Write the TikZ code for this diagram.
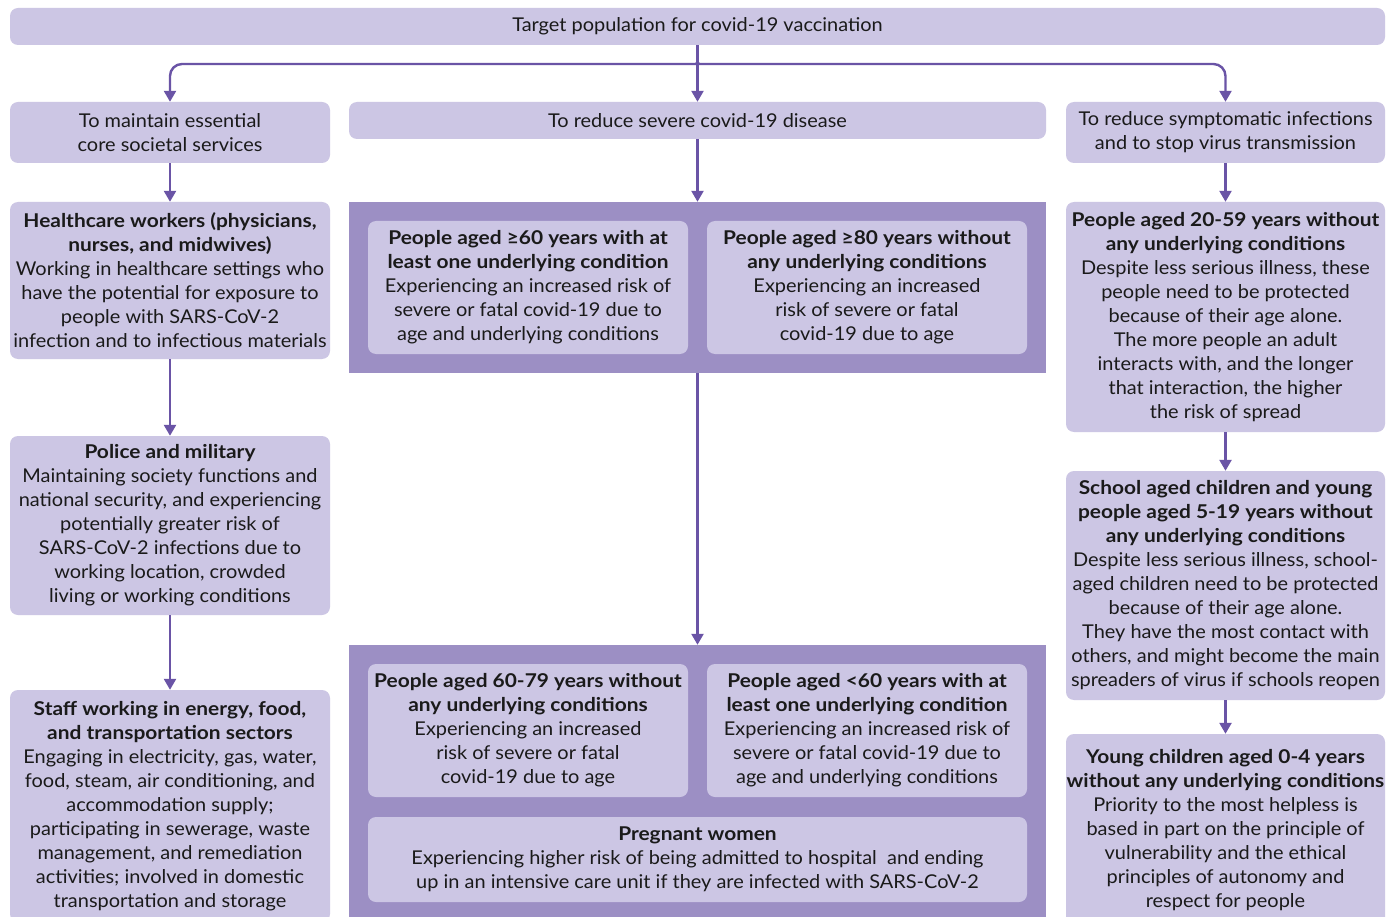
\documentclass[tikz,border=0pt]{standalone}
\usepackage{fontspec}
\setmainfont{Lato}[FakeStretch=1.05]
\newfontfamily\bfam{Lato}[FakeStretch=1.10]
\usetikzlibrary{arrows.meta,calc}
\definecolor{lightp}{HTML}{CCC6E4}
\definecolor{darkp}{HTML}{9C8FC4}
\definecolor{arrp}{HTML}{6A54A6}
\definecolor{txt}{HTML}{1A1A1A}
\newcommand\hd[1]{{\bfam\bfseries #1}}
\tikzset{
  lbox/.style={fill=lightp, rounded corners=8pt, align=center, inner sep=0pt, text=txt,
    font=\fontsize{19}{24}\selectfont},
  panel/.style={fill=darkp, inner sep=0pt},
  conn/.style={draw=arrp, line width=2.4pt, -{Triangle[width=12pt,length=11pt]}},
}
\begin{document}
\begin{tikzpicture}[x=1pt,y=-1pt]
\useasboundingbox (0,0) rectangle (1395,917);
\clip (0,0) rectangle (1395,917);
\fill[white] (0,0) rectangle (1395,917);

\node[lbox, minimum width=1375, minimum height=37] (top) at (697.5,26.5) {Target population for covid-19 vaccination};

\node[lbox, minimum width=320, minimum height=61] (c1) at (170,132.5) {To maintain essential\\core societal services};
\node[lbox, minimum width=697, minimum height=37] (c2) at (697.5,120.5) {To reduce severe covid-19 disease};
\node[lbox, minimum width=319, minimum height=61] (c3) at (1225.5,132.5) {To reduce symptomatic infections\\and to stop virus transmission};

% left column
\node[lbox, minimum width=320, minimum height=157] (l1) at (170,280.5) {\hd{Healthcare workers (physicians,}\\\hd{nurses, and midwives)}\\Working in healthcare settings who\\have the potential for exposure to\\people with SARS-CoV-2\\infection and to infectious materials};
\node[lbox, minimum width=320, minimum height=179] (l2) at (170,525.5) {\hd{Police and military}\\Maintaining society functions and\\national security, and experiencing\\potentially greater risk of\\SARS-CoV-2 infections due to\\working location, crowded\\living or working conditions};
\node[lbox, minimum width=320, minimum height=232] (l3) at (170,806) {\hd{Staff working in energy, food,}\\\hd{and transportation sectors}\\Engaging in electricity, gas, water,\\food, steam, air conditioning, and\\accommodation supply;\\participating in sewerage, waste\\management, and remediation\\activities; involved in domestic\\transportation and storage};

% middle panels
\node[panel, minimum width=697, minimum height=171] (p1) at (697.5,287.5) {};
\node[lbox, minimum width=320, minimum height=133] (p1a) at (528,287.5) {\hd{People aged ≥60 years with at}\\\hd{least one underlying condition}\\Experiencing an increased risk of\\severe or fatal covid-19 due to\\age and underlying conditions};
\node[lbox, minimum width=320, minimum height=133] (p1b) at (867,287.5) {\hd{People aged ≥80 years without}\\\hd{any underlying conditions}\\Experiencing an increased\\risk of severe or fatal\\covid-19 due to age};

\node[panel, minimum width=697, minimum height=290] (p2) at (697.5,790) {};
\node[lbox, minimum width=320, minimum height=133] (p2a) at (528,730.5) {\hd{People aged 60-79 years without}\\\hd{any underlying conditions}\\Experiencing an increased\\risk of severe or fatal\\covid-19 due to age};
\node[lbox, minimum width=320, minimum height=133] (p2b) at (867,730.5) {\hd{People aged <60 years with at}\\\hd{least one underlying condition}\\Experiencing an increased risk of\\severe or fatal covid-19 due to\\age and underlying conditions};
\node[lbox, minimum width=659, minimum height=85] (p2c) at (697.5,859.5) {\hd{Pregnant women}\\Experiencing higher risk of being admitted to hospital\ \ and ending\\up in an intensive care unit if they are infected with SARS-CoV-2};

% right column
\node[lbox, minimum width=319, minimum height=230] (r1) at (1225.5,317) {\hd{People aged 20-59 years without}\\\hd{any underlying conditions}\\Despite less serious illness, these\\people need to be protected\\because of their age alone.\\The more people an adult\\interacts with, and the longer\\that interaction, the higher\\the risk of spread};
\node[lbox, minimum width=319, minimum height=229] (r2) at (1225.5,585.5) {\hd{School aged children and young}\\\hd{people aged 5-19 years without}\\\hd{any underlying conditions}\\Despite less serious illness, school-\\aged children need to be protected\\because of their age alone.\\They have the most contact with\\others, and might become the main\\spreaders of virus if schools reopen};
\node[lbox, minimum width=319, minimum height=192] (r3) at (1225.5,830) {\hd{Young children aged 0-4 years}\\\hd{without any underlying conditions}\\Priority to the most helpless is\\based in part on the principle of\\vulnerability and the ethical\\principles of autonomy and\\respect for people};

% connectors
\coordinate (br) at (697.5,51);
\draw[conn] (top.south) -- (c2.north);
\draw[conn, rounded corners=12pt] (br) .. controls (697.5,64) .. (684,64) -- (c1.north |- 0,64) -- (c1.north);
\draw[conn, rounded corners=12pt] (br) .. controls (697.5,64) .. (711,64) -- (c3.north |- 0,64) -- (c3.north);

\draw[conn] (c1.south) -- (l1.north);
\draw[conn] (l1.south) -- (l2.north);
\draw[conn] (l2.south) -- (l3.north);

\draw[conn] (c2.south) -- (p1.north);
\draw[conn] (p1.south) -- (p2.north);

\draw[conn] (c3.south) -- (r1.north);
\draw[conn] (r1.south) -- (r2.north);
\draw[conn] (r2.south) -- (r3.north);
\end{tikzpicture}
\end{document}
